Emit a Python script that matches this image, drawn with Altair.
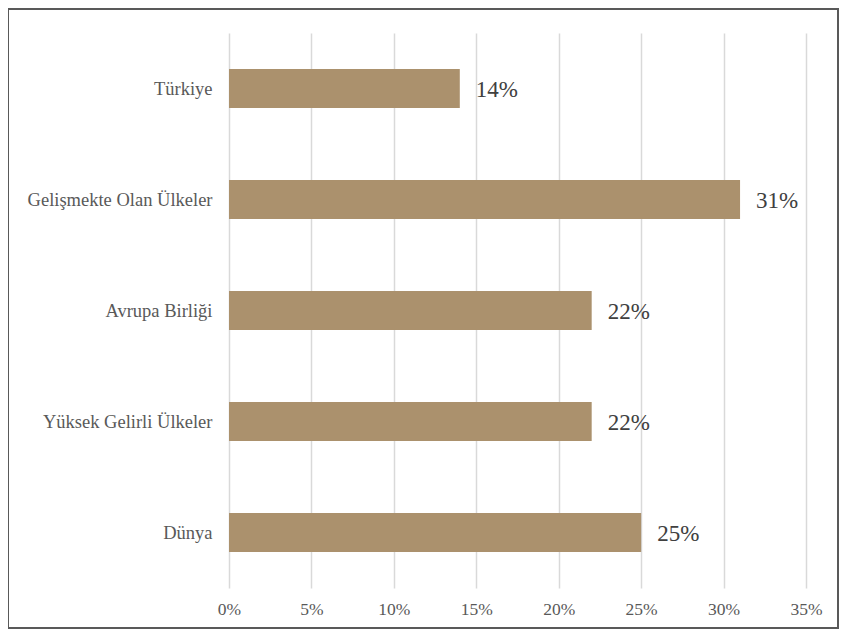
import altair as alt
import pandas as pd

categories = ["Türkiye", "Gelişmekte Olan Ülkeler", "Avrupa Birliği", "Yüksek Gelirli Ülkeler", "Dünya"]
values = [0.14, 0.31, 0.22, 0.22, 0.25]
labels = ["14%", "31%", "22%", "22%", "25%"]
x_ticks = [0, 0.05, 0.10, 0.15, 0.20, 0.25, 0.30, 0.35]

df = pd.DataFrame({"cat": categories, "val": values, "lab": labels})

FONT = "Liberation Serif"

y_enc = alt.Y("cat:N", sort=categories, title=None,
              scale=alt.Scale(paddingInner=0.65, paddingOuter=0.325),
              axis=alt.Axis(domain=False, ticks=False, grid=False, labelFont=FONT,
                            labelFontSize=18.5, labelColor="#595959", labelPadding=17,
                            labelLimit=400))
x_enc = alt.X("val:Q", title=None,
              scale=alt.Scale(domain=[0, 0.35], nice=False),
              axis=alt.Axis(values=x_ticks, format=".0%", domain=False, ticks=False,
                            grid=True, gridColor="#D9D9D9", gridWidth=1.5,
                            labelFlush=False,
                            labelFont=FONT, labelFontSize=17.5, labelColor="#595959",
                            labelPadding=12))

bars = alt.Chart(df).mark_bar(color="#AB916D").encode(x=x_enc, y=y_enc)

text = alt.Chart(df).mark_text(align="left", baseline="middle", dx=16, dy=1,
                               font=FONT, fontSize=23, color="#404040").encode(
    x="val:Q", y=alt.Y("cat:N", sort=categories), text="lab:N")

frame = alt.Chart(pd.DataFrame({"a": [0]})).mark_rect(
    fill=None, stroke="#595959", strokeWidth=2).encode(
    x=alt.value(-221), x2=alt.value(609), y=alt.value(-24), y2=alt.value(595))

chart = alt.layer(bars, text, frame).properties(
    width=577, height=555,
    autosize=alt.AutoSizeParams(type="none"),
    padding={"left": 221, "top": 25, "right": 33, "bottom": 41},
).configure_view(stroke=None)

chart.save("out.html", embed_options={"renderer": "svg", "actions": False})
